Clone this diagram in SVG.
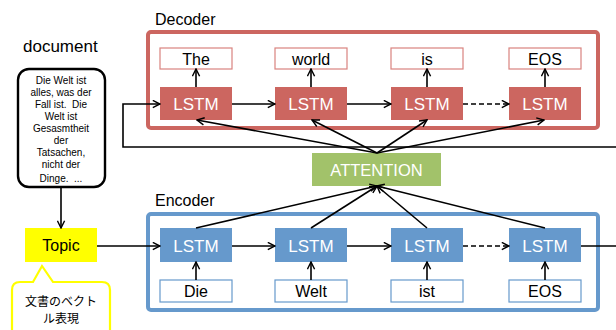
<svg xmlns="http://www.w3.org/2000/svg" width="616" height="330" viewBox="0 0 616 330">
<defs>
<marker id="ah" viewBox="0 0 10 10" refX="9" refY="5" markerWidth="9" markerHeight="9" markerUnits="userSpaceOnUse" orient="auto">
<path d="M1,1 L9,5 L1,9" fill="none" stroke="#000" stroke-width="1.6"/>
</marker>
<style>
text{font-family:"Liberation Sans",Arial,sans-serif;}
.lbl{font-size:16px;fill:#000;}
.dec{fill:#CC6660;}
.enc{fill:#6699CC;}
.lstm{font-size:17px;fill:#fff;text-anchor:middle;}
.tok{font-size:16px;fill:#000;text-anchor:middle;}
.obox{fill:#fff;stroke:#D9837F;stroke-width:1.2;}
.ibox{fill:#fff;stroke:#6699CC;stroke-width:1.2;}
.c{fill:none;stroke:#000;stroke-width:1.6;}
.a{marker-end:url(#ah);}
.doc{font-size:10px;text-anchor:middle;fill:#000;}
.jp{font-size:12px;text-anchor:middle;fill:#000;font-family:"Noto Sans CJK JP","Liberation Sans",sans-serif;}
</style>
</defs>
<rect width="616" height="330" fill="#fff"/>

<g id="decoder">
<text class="lbl" x="155" y="25">Decoder</text>
<rect x="148" y="32" width="450" height="96" rx="3" fill="none" stroke="#CC6660" stroke-width="4"/>
</g>
<g id="encoder">
<text class="lbl" x="155" y="206">Encoder</text>
<rect x="148" y="214" width="450" height="96" rx="3" fill="none" stroke="#6699CC" stroke-width="4"/>
</g>

<g id="document">
<text class="lbl" x="23" y="52" font-size="17" style="font-size:17px">document</text>
<rect x="18" y="69" width="87" height="118" rx="11" fill="#fff" stroke="#000" stroke-width="2.4"/>
<text class="doc" x="61" y="84">Die Welt ist</text>
<text class="doc" x="61" y="96">alles, was der</text>
<text class="doc" x="61" y="108">Fall ist.&#160; Die</text>
<text class="doc" x="61" y="120">Welt ist</text>
<text class="doc" x="61" y="132">Gesasmtheit</text>
<text class="doc" x="61" y="144">der</text>
<text class="doc" x="61" y="156">Tatsachen,</text>
<text class="doc" x="61" y="168">nicht der</text>
<text class="doc" x="61" y="182">Dinge.&#160; ...</text>
</g>

<g id="topic">
<rect x="25" y="228" width="72" height="34" fill="#FFFF00"/>
<text x="61" y="251" font-size="16" text-anchor="middle" fill="#000">Topic</text>
</g>

<g id="callout">
<path d="M20,282 L33,282 L42,266 L53,282 L102,282 Q110,282 110,290 L110,332 L12,332 L12,290 Q12,282 20,282 Z" fill="#fff" stroke="#FFFF00" stroke-width="2.2"/>
<text class="jp" x="61" y="306">文書のベクト</text>
<text class="jp" x="61" y="323">ル表現</text>
</g>

<g id="attention">
<rect x="312" y="153" width="129" height="33" fill="#A2C26A"/>
<text x="376.5" y="175.5" font-size="16.5" fill="#fff" text-anchor="middle">ATTENTION</text>
</g>

<g id="dec-lstm">
<rect class="dec" x="160" y="87" width="72" height="33"/><text class="lstm" x="196" y="110">LSTM</text>
<rect class="dec" x="275" y="87" width="72" height="33"/><text class="lstm" x="311" y="110">LSTM</text>
<rect class="dec" x="391" y="87" width="72" height="33"/><text class="lstm" x="427" y="110">LSTM</text>
<rect class="dec" x="509" y="87" width="72" height="33"/><text class="lstm" x="545" y="110">LSTM</text>
</g>
<g id="dec-out">
<rect class="obox" x="160" y="48" width="72" height="21"/><text class="tok" x="196" y="64.5">The</text>
<rect class="obox" x="275" y="48" width="72" height="21"/><text class="tok" x="311" y="64.5">world</text>
<rect class="obox" x="391" y="48" width="72" height="21"/><text class="tok" x="427" y="64.5">is</text>
<rect class="obox" x="509" y="48" width="72" height="21"/><text class="tok" x="545" y="64.5">EOS</text>
</g>
<g id="enc-lstm">
<rect class="enc" x="160" y="228" width="72" height="34"/><text class="lstm" x="196" y="252">LSTM</text>
<rect class="enc" x="275" y="228" width="72" height="34"/><text class="lstm" x="311" y="252">LSTM</text>
<rect class="enc" x="391" y="228" width="72" height="34"/><text class="lstm" x="427" y="252">LSTM</text>
<rect class="enc" x="509" y="228" width="72" height="34"/><text class="lstm" x="545" y="252">LSTM</text>
</g>
<g id="enc-in">
<rect class="ibox" x="160" y="280" width="72" height="22"/><text class="tok" x="196" y="297">Die</text>
<rect class="ibox" x="275" y="280" width="72" height="22"/><text class="tok" x="311" y="297">Welt</text>
<rect class="ibox" x="391" y="280" width="72" height="22"/><text class="tok" x="427" y="297">ist</text>
<rect class="ibox" x="509" y="280" width="72" height="22"/><text class="tok" x="545" y="297">EOS</text>
</g>

<g id="connectors">
<line class="c a" x1="196" y1="87" x2="196" y2="69"/>
<line class="c a" x1="311" y1="87" x2="311" y2="69"/>
<line class="c a" x1="427" y1="87" x2="427" y2="69"/>
<line class="c a" x1="545" y1="87" x2="545" y2="69"/>
<line class="c a" x1="232" y1="104" x2="275" y2="104"/>
<line class="c a" x1="347" y1="104" x2="391" y2="104"/>
<line class="c a" x1="463" y1="104" x2="509" y2="104" stroke-dasharray="5,3"/>
<polyline class="c a" points="616,147 123,147 123,104 160,104"/>
<line class="c a" x1="377" y1="153" x2="197" y2="120"/>
<line class="c a" x1="377" y1="153" x2="312" y2="120"/>
<line class="c a" x1="377" y1="153" x2="427" y2="120"/>
<line class="c a" x1="377" y1="153" x2="544" y2="120"/>
<line class="c a" x1="196" y1="228" x2="377" y2="186"/>
<line class="c a" x1="311" y1="228" x2="377" y2="186"/>
<line class="c a" x1="427" y1="228" x2="377" y2="186"/>
<line class="c a" x1="545" y1="228" x2="377" y2="186"/>
<line class="c a" x1="232" y1="246" x2="275" y2="246"/>
<line class="c a" x1="347" y1="246" x2="391" y2="246"/>
<line class="c a" x1="463" y1="246" x2="509" y2="246" stroke-dasharray="5,3"/>
<line class="c" x1="581" y1="246" x2="616" y2="246"/>
<line class="c a" x1="97" y1="246" x2="160" y2="246"/>
<line class="c a" x1="61" y1="188" x2="61" y2="228"/>
<line class="c a" x1="196" y1="280" x2="196" y2="262"/>
<line class="c a" x1="311" y1="280" x2="311" y2="262"/>
<line class="c a" x1="427" y1="280" x2="427" y2="262"/>
<line class="c a" x1="545" y1="280" x2="545" y2="262"/>
</g>
</svg>
